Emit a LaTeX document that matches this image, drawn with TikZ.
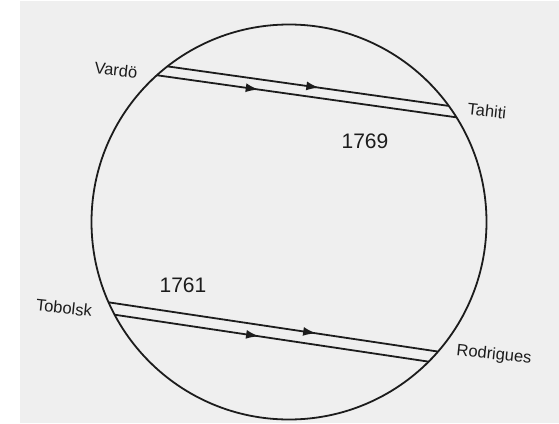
\documentclass[tikz,border=0pt]{standalone}
\usepackage{fontspec}
\setmainfont{Liberation Sans}
\usetikzlibrary{arrows.meta, decorations.markings}
\definecolor{panel-bg}{HTML}{EFEFEF}
\definecolor{ink}{HTML}{1C1C1C}
\newcommand{\transit}[3]{%  \transit{from}{to}{arrow pos}
  \draw[track, postaction={decorate, decoration={markings,
        mark=at position #3 with {\arrow{Latex[length=13pt, width=9pt]}}}}]
        (#1) -- (#2);}

\begin{document}
\begin{tikzpicture}[x=1pt, y=-1pt,
    track/.style={ink, line width=1.8pt},
    place/.style={font=\fontsize{16.5}{18}\selectfont, text=ink, rotate=-6, inner sep=0pt},
    year/.style={font=\fontsize{21}{24}\selectfont, text=ink, inner sep=0pt}]
    % ── panel
    \fill[white] (0,0) rectangle (559,423);
    \fill[panel-bg] (20,1) rectangle (559,423);
    \useasboundingbox (0,0) rectangle (559,423);
    % ── Earth disc
    \node[draw=ink, line width=1.8pt, circle, minimum size=395pt, inner sep=0pt,
          outer sep=0pt] (earth) at (289,222) {};
    % ── 1769: Vardö -- Tahiti
    \transit{earth.128}{earth.36}{0.54}
    \transit{earth.132}{earth.32.3}{0.34}
    \node[place] (vardo)  at (116,70)  {Vardö};
    \node[place] (tahiti) at (487,111) {Tahiti};
    \node[year]  (y1769)  at (365,141) {1769};
    % ── 1761: Tobolsk -- Rodrigues
    \transit{earth.204.3}{earth.319.6}{0.63}
    \transit{earth.208.1}{earth.315.4}{0.46}
    \node[place] (tobolsk)   at (64,308)  {Tobolsk};
    \node[place] (rodrigues) at (494,355) {Rodrigues};
    \node[year]  (y1761)     at (183,285) {1761};
\end{tikzpicture}
\end{document}
